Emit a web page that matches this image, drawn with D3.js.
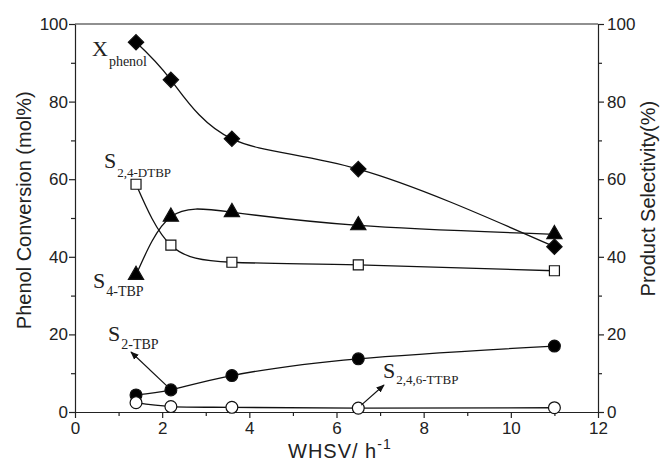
<!DOCTYPE html>
<html>
<head>
<meta charset="utf-8">
<script src="https://cdn.jsdelivr.net/npm/d3@7"></script>
<style>
  body { margin: 0; background: #fff; }
  svg { display: block; }
  .axis text { font-family: "Liberation Sans", Arial, sans-serif; font-size: 17px; fill: #222; }
  .axis path, .axis line { stroke: #222; stroke-width: 1.2; }
  .title { font-family: "Liberation Sans", Arial, sans-serif; font-size: 20px; fill: #222; }
  .lbl { font-family: "Liberation Serif", "Times New Roman", serif; fill: #222; }
</style>
</head>
<body>
<script>
// data
const whsv = [1.4, 2.2, 3.6, 6.5, 11]
const xPhenol = [95.3, 85.6, 70.4, 62.6, 42.6]
const s4TBP = [35.3, 50.3, 51.5, 48.1, 45.8]
const s24DTBP = [58.7, 43.0, 38.6, 37.9, 36.4]
const s2TBP = [4.4, 5.7, 9.4, 13.7, 17.0]
const s246TTBP = [2.4, 1.4, 1.2, 1.0, 1.1]

const xTicks = [0, 2, 4, 6, 8, 10, 12]
const yTicks = [0, 20, 40, 60, 80, 100]

const W = 660, H = 465
const m = {left: 75, right: 62, top: 24, bottom: 53}

const svg = d3.select("body").append("svg")
  .attr("width", W).attr("height", H)

const x = d3.scaleLinear().domain([0, 12]).range([m.left, W - m.right])
const y = d3.scaleLinear().domain([0, 100]).range([H - m.bottom, m.top])

// frame top line
svg.append("line")
  .attr("x1", x(0)).attr("x2", x(12))
  .attr("y1", y(100)).attr("y2", y(100))
  .attr("stroke", "#222").attr("stroke-width", 1.2)

// minor ticks first
const minorX = d3.range(1, 12, 2)
const minorY = d3.range(10, 100, 20)

svg.append("g").attr("class", "axis")
  .attr("transform", `translate(0,${y(0)})`)
  .call(d3.axisBottom(x).tickValues(minorX).tickSize(4).tickFormat(""))
  .call(g => g.select(".domain").remove())
svg.append("g").attr("class", "axis")
  .attr("transform", `translate(${x(0)},0)`)
  .call(d3.axisLeft(y).tickValues(minorY).tickSize(4).tickFormat(""))
  .call(g => g.select(".domain").remove())
svg.append("g").attr("class", "axis")
  .attr("transform", `translate(${x(12)},0)`)
  .call(d3.axisRight(y).tickValues(minorY).tickSize(4).tickFormat(""))
  .call(g => g.select(".domain").remove())

svg.append("g").attr("class", "axis")
  .attr("transform", `translate(0,${y(0)})`)
  .call(d3.axisBottom(x).tickValues(xTicks).tickSize(6).tickPadding(4).tickSizeOuter(0))
svg.append("g").attr("class", "axis")
  .attr("transform", `translate(${x(0)},0)`)
  .call(d3.axisLeft(y).tickValues(yTicks).tickSize(6).tickPadding(1).tickSizeOuter(0))
svg.append("g").attr("class", "axis")
  .attr("transform", `translate(${x(12)},0)`)
  .call(d3.axisRight(y).tickValues(yTicks).tickSize(6).tickPadding(3).tickSizeOuter(0))

// axis titles
svg.append("text").attr("class", "title")
  .attr("transform", `translate(31,${y(52)}) rotate(-90)`)
  .attr("text-anchor", "middle")
  .text("Phenol Conversion (mol%)")
svg.append("text").attr("class", "title")
  .attr("transform", `translate(655,${y(55)}) rotate(-90)`)
  .attr("text-anchor", "middle")
  .text("Product Selectivity(%)")
const xt = svg.append("text").attr("class", "title")
  .attr("x", 288).attr("y", 458)
  .attr("font-size", 21).attr("letter-spacing", 1)
xt.append("tspan").text("WHSV/ h")
xt.append("tspan").attr("dy", -9).attr("font-size", 14).text("-1")

// series
const line = d3.line()
  .x((d, i) => x(whsv[i]))
  .y(d => y(d))
  .curve(d3.curveNatural)

const series = [
  {v: xPhenol, sym: d3.symbolDiamond2, size: 150, fill: "#000"},
  {v: s4TBP, sym: d3.symbolTriangle, size: 100, fill: "#000"},
  {v: s24DTBP, sym: d3.symbolSquare, size: 100, fill: "#fff"},
  {v: s2TBP, sym: d3.symbolCircle, size: 110, fill: "#000"},
  {v: s246TTBP, sym: d3.symbolCircle, size: 110, fill: "#fff"}
]

series.forEach(s => {
  svg.append("path")
    .attr("d", line(s.v))
    .attr("fill", "none")
    .attr("stroke", "#111")
    .attr("stroke-width", 1.3)
})
series.forEach(s => {
  svg.append("g").selectAll("path")
    .data(s.v)
    .join("path")
    .attr("transform", (d, i) => `translate(${x(whsv[i])},${y(d)})`)
    .attr("d", d3.symbol(s.sym, s.size))
    .attr("fill", s.fill)
    .attr("stroke", "#111")
    .attr("stroke-width", 1.2)
})

// arrows
svg.append("defs").append("marker")
  .attr("id", "arr")
  .attr("viewBox", "0 0 10 10")
  .attr("refX", 9).attr("refY", 5)
  .attr("markerWidth", 7).attr("markerHeight", 7)
  .attr("orient", "auto")
  .append("path").attr("d", "M0,1L10,5L0,9z").attr("fill", "#111")

const arrows = [
  [[x(2.2) - 3, y(5.7) - 3], [131, 352]],
  [[x(6.5) + 3, y(1.0) - 3], [384, 385]]
]
arrows.forEach(a => {
  svg.append("line")
    .attr("x1", a[0][0]).attr("y1", a[0][1])
    .attr("x2", a[1][0]).attr("y2", a[1][1])
    .attr("stroke", "#111").attr("stroke-width", 1.2)
    .attr("marker-end", "url(#arr)")
})

// series labels
const labels = [
  {main: "X", sub: "phenol", x: 92, y: 56, dy: 10, fs: 22, ss: 14},
  {main: "S", sub: "2,4-DTBP", x: 104, y: 168, dy: 9, fs: 22, ss: 13},
  {main: "S", sub: "4-TBP", x: 93, y: 288, dy: 8, fs: 22, ss: 14},
  {main: "S", sub: "2-TBP", x: 108, y: 341, dy: 8, fs: 22, ss: 14},
  {main: "S", sub: "2,4,6-TTBP", x: 383, y: 378, dy: 6, fs: 22, ss: 13}
]
labels.forEach(l => {
  const t = svg.append("text").attr("class", "lbl")
    .attr("x", l.x).attr("y", l.y)
  t.append("tspan").attr("font-size", l.fs).text(l.main)
  t.append("tspan").attr("font-size", l.ss).attr("dx", 1).attr("dy", l.dy).text(l.sub)
})
</script>
</body>
</html>
